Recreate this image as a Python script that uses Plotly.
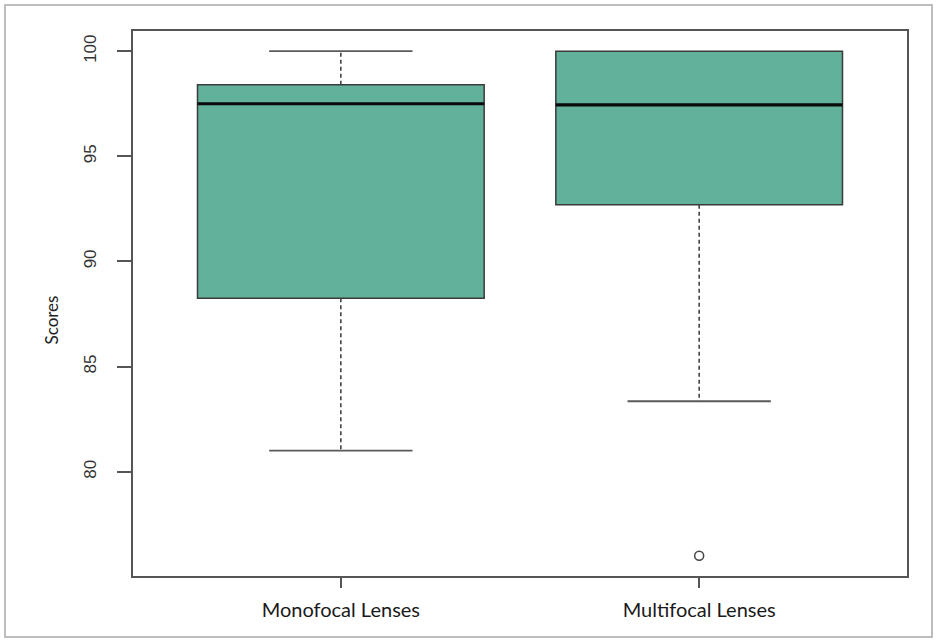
import plotly.graph_objects as go

# Summary statistics for each lens group
groups = ["Monofocal Lenses", "Multifocal Lenses"]
positions = [1, 2]
lower_whisker = [81.0, 83.35]
q1 = [88.25, 92.7]
median = [97.5, 97.45]
q3 = [98.4, 100.0]
upper_whisker = [100.0, 100.0]
outlier_x = [2]
outlier_y = [76.0]

y_ticks = [80, 85, 90, 95, 100]

BOX_W = 0.8
CAP_W = 0.4
FILL = "#62b29b"
EDGE = "#3a3a3a"
AXIS = "#555555"

fig = go.Figure()

for i, pos in enumerate(positions):
    fig.add_trace(go.Box(
        x=[pos], q1=[q1[i]], median=[median[i]], q3=[q3[i]],
        lowerfence=[q1[i]], upperfence=[q3[i]],
        width=BOX_W, fillcolor=FILL, line=dict(color=EDGE, width=1.5),
        boxpoints=False, showlegend=False, hoverinfo="skip",
    ))
    # dashed whiskers
    for a, b in ((q3[i], upper_whisker[i]), (q1[i], lower_whisker[i])):
        if a != b:
            fig.add_trace(go.Scatter(
                x=[pos, pos], y=[a, b], mode="lines",
                line=dict(color="#444444", width=1.6, dash="4px,3px"),
                showlegend=False, hoverinfo="skip",
            ))
    # whisker caps
    for v, edge in ((upper_whisker[i], q3[i]), (lower_whisker[i], q1[i])):
        if v != edge:
            fig.add_trace(go.Scatter(
                x=[pos - CAP_W / 2, pos + CAP_W / 2], y=[v, v], mode="lines",
                line=dict(color="#5a5a5a", width=1.8),
                showlegend=False, hoverinfo="skip",
            ))
    # heavy median bar
    fig.add_trace(go.Scatter(
        x=[pos - BOX_W / 2, pos + BOX_W / 2], y=[median[i], median[i]],
        mode="lines", line=dict(color="#0a0a0a", width=3.2),
        showlegend=False, hoverinfo="skip",
    ))

fig.add_trace(go.Scatter(
    x=outlier_x, y=outlier_y, mode="markers",
    marker=dict(symbol="circle-open", size=9, color="#444444", line=dict(width=1.5)),
    showlegend=False, hoverinfo="skip",
))

W, H = 937, 642
L, R, T, B = 133, 30, 31, 66
pw, ph = W - L - R, H - T - B


def px_to_paper(px, py):
    return (px - L) / pw, (H - B - py) / ph


x0, y0 = px_to_paper(5, 637)
x1, y1 = px_to_paper(932, 5)
fig.add_shape(type="rect", xref="paper", yref="paper", x0=x0, y0=y0, x1=x1, y1=y1,
              line=dict(color="#bdbdbd", width=2), layer="below")

ax, ay = px_to_paper(38, 320)
fig.add_annotation(text="Scores", xref="paper", yref="paper", x=ax, y=ay,
                   textangle=-90, showarrow=False,
                   font=dict(family="Lato, Open Sans, sans-serif", size=17, color="#222222"))

fig.update_layout(
    width=W, height=H,
    margin=dict(l=L, r=R, t=T, b=B),
    paper_bgcolor="white", plot_bgcolor="white",
    xaxis=dict(
        range=[0.42, 2.58], tickmode="array", tickvals=positions, ticktext=groups,
        ticks="outside", ticklen=10, tickwidth=1.5, tickcolor=AXIS,
        showline=True, linecolor=AXIS, linewidth=1.5, mirror=True,
        showgrid=False, zeroline=False, ticklabelstandoff=5,
        tickfont=dict(family="Lato, Open Sans, sans-serif", size=20, color="#1a1a1a"),
    ),
    yaxis=dict(
        range=[75.04, 100.96], tickmode="array", tickvals=y_ticks,
        ticks="outside", ticklen=14, tickwidth=1.5, tickcolor=AXIS,
        showline=True, linecolor=AXIS, linewidth=1.5, mirror=True,
        showgrid=False, zeroline=False, tickangle=-90, ticklabelstandoff=14,
        tickfont=dict(family="Liberation Sans, Arial, sans-serif", size=17, color="#333333"),
    ),
)

fig.write_html("out.html")
